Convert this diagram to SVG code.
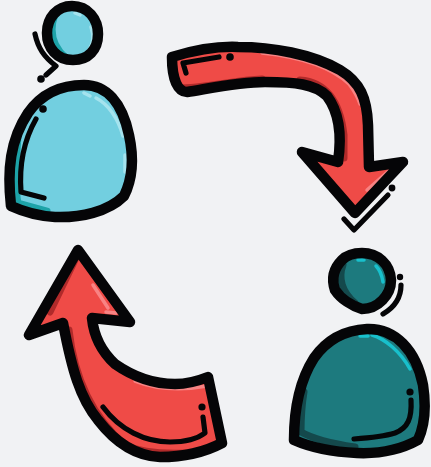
<svg xmlns="http://www.w3.org/2000/svg" width="431" height="467" viewBox="0 0 431 467">
<style>
.o{fill:none;stroke:#050507;stroke-width:10.5;stroke-linejoin:round;stroke-linecap:round}
.l{fill:none;stroke:#050507;stroke-width:5.2;stroke-linecap:round;stroke-linejoin:round}
.d{fill:#050507}
.hi{fill:none;stroke-width:3.5;stroke-linecap:round}
.sh{fill:none;stroke-width:7;stroke-linecap:round}
</style>
<defs>
<path id="p1h" d="M72 6C88 6 98 19 98 34C98 50 88 60 73 60C57 60 47 48 47 33C47 18 57 6 72 6Z"/>
<path id="p1b" d="M11 206C7 170 10 140 28 113C42 93 62 85 84 85C106 85 122 102 129 135C134 158 133 178 124 196C108 212 80 218 55 217C38 216 24 212 11 206Z"/>
<path id="a1" d="M172 57C195 50 215 46 238 47C272 47 312 54 340 70C360 82 367 98 368 125L369 167L403 162L355 213L302 152L338 162C342 135 339 112 327 96C315 84 295 82 265 82C240 82 212 88 187 92C178 92 172 80 172 57Z"/>
<path id="p2h" d="M362 253C378 253 390 264 391 280C391 295 378 309 362 309C352 306 341 299 335 290C331 278 334 268 342 260C347 255 354 253 362 253Z"/>
<path id="p2b" d="M367 329C395 328 416 350 423 385C426 405 425 425 418 440C400 450 380 454 357 453C335 452 312 448 294 440C294 410 300 380 314 358C328 338 348 330 367 329Z"/>
<path id="a2" d="M78 250L130 322L92 318C94 338 102 352 115 364C135 378 155 384 175 384C187 384 198 381 208 377L222 443C205 452 185 457 160 457C135 456 115 442 98 420C80 398 72 370 63 323L29 335Z"/>
<clipPath id="c1"><use href="#p1h"/></clipPath>
<clipPath id="c2"><use href="#p1b"/></clipPath>
<clipPath id="c3"><use href="#a1"/></clipPath>
<clipPath id="c4"><use href="#p2h"/></clipPath>
<clipPath id="c5"><use href="#p2b"/></clipPath>
<clipPath id="c6"><use href="#a2"/></clipPath>
</defs>
<rect width="431" height="467" fill="#f1f2f4"/>
<g id="person-top-left">
<use href="#p1h" fill="#72cfe0"/>
<g clip-path="url(#c1)">
<path d="M55 14C50 28 50 44 66 58" class="sh" stroke="#1da3a8"/>
<path d="M91 27C94 36 93 44 89 50" class="hi" stroke="#a5e3ee"/>
<path d="M75 13L80 15" class="hi" stroke="#a5e3ee"/>
</g>
<use href="#p1h" class="o"/>
<use href="#p1b" fill="#72cfe0"/>
<g clip-path="url(#c2)">
<path d="M18 135C16 165 15 190 18 203L47 211" class="sh" stroke="#1da3a8" stroke-width="9"/>
<path d="M96 98C108 104 118 118 123 136" class="hi" stroke="#a5e3ee"/>
<path d="M84 93L90 96" class="hi" stroke="#a5e3ee"/>
<path d="M125 155L125 172" class="hi" stroke="#a5e3ee"/>
</g>
<use href="#p1b" class="o"/>
<path d="M35 34C38 48 44 57 56 66L46 75" class="l"/>
<circle cx="41" cy="79" r="3.8" class="d"/>
<circle cx="43" cy="109" r="3.8" class="d"/>
<path d="M36 119C24 140 19 165 21 192L44 198" class="l"/>
</g>
<g id="connectors">
<g id="arrow-top-right">
<use href="#a1" fill="#ef4b47"/>
<g clip-path="url(#c3)">
<path d="M178 88C205 88 235 80 262 79M300 80C325 82 340 100 344 135L344 158M310 168L352 214" class="sh" stroke="#b02a2a" stroke-width="8"/>
<path d="M262 53C300 57 330 66 349 84C355 92 358 98 360 104" class="hi" stroke="#f88383"/>
<path d="M367 190L392 168" class="hi" stroke="#f88383"/>
</g>
<use href="#a1" class="o"/>
<path d="M219 57L183 63L186 73" class="l"/>
<circle cx="230" cy="57" r="3.8" class="d"/>
<path d="M388 195L354 230L344 219" class="l"/>
<circle cx="392" cy="188" r="3.4" class="d"/>
</g>
<g id="arrow-bottom-left">
<use href="#a2" fill="#ef4b47"/>
<g clip-path="url(#c6)">
<path d="M76 258L50 312M69 330C74 375 90 415 125 445C140 452 160 454 185 453" class="sh" stroke="#b02a2a" stroke-width="6"/>
<path d="M93 285L108 308" class="hi" stroke="#f88383"/>
<path d="M106 312L116 313" class="hi" stroke="#f88383"/>
<path d="M135 381C158 390 185 390 207 386" class="hi" stroke="#f88383"/>
</g>
<use href="#a2" class="o"/>
<path d="M103 407C120 430 145 442 170 442C185 442 197 439 205 433L203 417" class="l"/>
<circle cx="202" cy="407" r="3.6" class="d"/>
</g>
</g>
<g id="person-bottom-right">
<use href="#p2h" fill="#1d7a7e"/>
<g clip-path="url(#c4)">
<path d="M343 265C338 278 342 292 355 303" class="sh" stroke="#14494c"/>
<path d="M376 266C380 270 382 276 383 282" class="hi" stroke="#18c0cc"/>
<path d="M358 260L364 260" class="hi" stroke="#18c0cc"/>
</g>
<use href="#p2h" class="o"/>
<use href="#p2b" fill="#1d7a7e"/>
<g clip-path="url(#c5)">
<path d="M304 392C301 410 301 425 301 432C315 440 335 444 355 447" class="sh" stroke="#14494c" stroke-width="9"/>
<path d="M372 335C385 339 400 351 410 369" class="hi" stroke="#18c0cc"/>
<path d="M360 336L368 336" class="hi" stroke="#18c0cc"/>
</g>
<use href="#p2b" class="o"/>
<circle cx="400" cy="277" r="3.2" class="d"/>
<path d="M401 285C401 297 395 307 383 314" class="l"/>
<circle cx="410" cy="392" r="3.6" class="d"/>
<path d="M411 400C412 418 408 428 395 433C382 437 368 438 354 439" class="l"/>
</g>
</svg>
